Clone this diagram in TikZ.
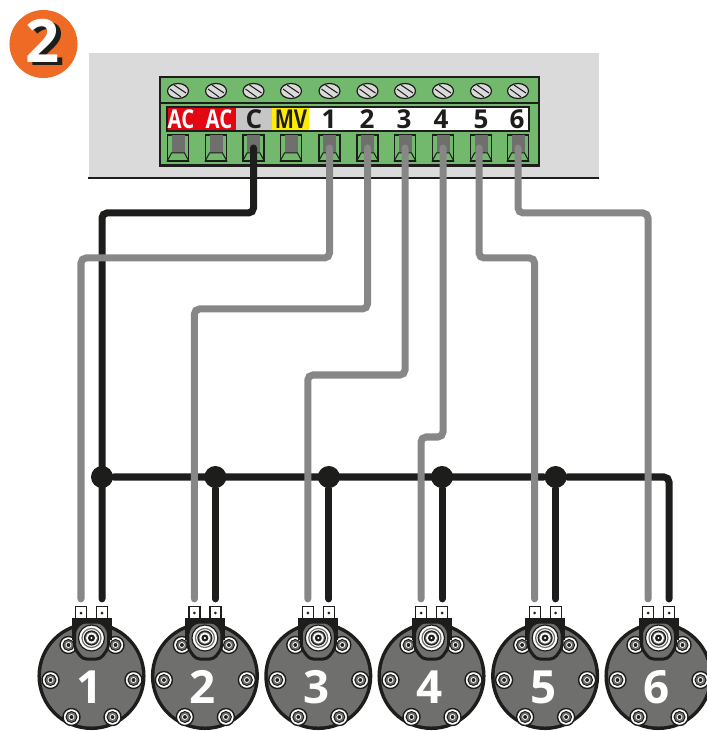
\documentclass[tikz,border=0pt]{standalone}
\usepackage{fontspec}
\setmainfont{Open Sans}
\usetikzlibrary{shapes, positioning, calc}

\definecolor{panelgrey}{HTML}{DADADA}
\definecolor{blockgreen}{HTML}{72B96E}
\definecolor{wiregrey}{HTML}{878787}
\definecolor{wireblack}{HTML}{1D1D1B}
\definecolor{potgrey}{HTML}{6F6F6E}
\definecolor{badgeorange}{HTML}{EE6A25}
\definecolor{acred}{HTML}{E30613}
\definecolor{mvyellow}{HTML}{FFED00}
\definecolor{stripgrey}{HTML}{C6C6C6}

\begin{document}
\begin{tikzpicture}[
        x=0.01cm, y=-0.01cm,
        stripbox/.style={minimum height=0.24cm, inner sep=0pt},
        stripfont/.style={font=\fontsize{7.4}{8}\selectfont\bfseries, inner sep=0pt},
        screwhead/.style={draw=wireblack, ellipse, fill=panelgrey, line width=0.012cm, minimum width=0.21cm, minimum height=0.15cm, inner sep=0pt},
        terminal/.style={draw=wireblack, line width=0.012cm, minimum width=0.21cm, minimum height=0.26cm, inner sep=0pt},
        wirepath/.style={line width=0.07cm, line cap=round, rounded corners=0.05cm, shorten >=0.07cm},
        dotnode/.style={circle, fill=wireblack, minimum size=0.22cm, inner sep=0pt},
        bolthead/.style={circle, draw=wireblack, fill=white, line width=0.014cm, minimum size=0.17cm, inner sep=0pt},
        tabnode/.style={draw=wireblack, fill=white, line width=0.012cm, minimum width=0.11cm, minimum height=0.13cm, inner sep=0pt}
    ]
    \clip (0,0) rectangle (707,731);

    % Badge
    \node[circle, fill=badgeorange, minimum size=0.68cm, inner sep=0pt] (badge) at (43.5,44) {};
    \node[text=wireblack, font=\fontsize{17}{18}\selectfont\bfseries, inner sep=0pt] (badgeshadow) at (47.5,44) {2};
    \node[text=white, font=\fontsize{17}{18}\selectfont\bfseries, inner sep=0pt] (badgetext) at (43,40.5) {2};

    % Control panel
    \fill[panelgrey] (89,53) rectangle (599,178);
    \draw[wireblack, line width=0.02cm] (88,178) -- (599,178);

    % Terminal block
    \node[draw=wireblack, fill=blockgreen, line width=0.025cm, minimum width=3.79cm, minimum height=0.885cm, inner sep=0pt] (block) at (349.5,121.3) {};
    \draw[wireblack, line width=0.012cm] (block.west |- 0,103) -- (block.east |- 0,103);

    % Label strip
    \node[stripbox, fill=acred, minimum width=0.69cm] (stripac) at (201.5,119) {};
    \node[stripbox, fill=stripgrey, minimum width=0.36cm] (stripc) at (254,119) {};
    \node[stripbox, fill=mvyellow, minimum width=0.37cm] (stripmv) at (290.5,119) {};
    \node[stripbox, fill=white, minimum width=2.2cm] (stripnum) at (419,119) {};
    \draw[wireblack, line width=0.012cm] (167,107) rectangle (529,131);

    % Strip labels
    \node[stripfont, text=white, xscale=0.78, transform shape] (labac1) at (181,119) {AC};
    \node[stripfont, text=white, xscale=0.78, transform shape] (labac2) at (219,119) {AC};
    \node[stripfont, text=wireblack] (labc) at (254,119) {C};
    \node[stripfont, text=wireblack, xscale=0.78, transform shape] (labmv) at (291,119) {MV};
    \foreach \n/\px in {1/329, 2/367, 3/404, 4/441, 5/481, 6/517}
        \node[stripfont, text=wireblack] (labnum\n) at (\px,119) {\n};

    % Screws and terminals
    \foreach \n/\px in {1/178, 2/216, 3/253.5, 4/291, 5/329.5, 6/367.5, 7/405, 8/443, 9/481, 10/518} {
        \node[screwhead] (screw\n) at (\px,91) {};
        \draw[wireblack, line width=0.01cm] ($(screw\n)+(-8,-2)$) -- ($(screw\n)+(3,6)$);
        \draw[wireblack, line width=0.01cm] ($(screw\n)+(-4,-6)$) -- ($(screw\n)+(8,2)$);
        \node[terminal] (term\n) at (\px,148) {};
        \fill[potgrey] ($(term\n)+(-6.5,-13)$) rectangle ($(term\n)+(6.5,5)$);
        \draw[wireblack, line width=0.01cm] (term\n.south west) -- ($(term\n)+(-6.5,5)$) -- ($(term\n)+(6.5,5)$) -- (term\n.south east);
    }
    \coordinate (wire5top) at (479,148);

    % Potentiometers
    \foreach \n/\px in {1/91.5, 2/204.9, 3/318.3, 4/431.5, 5/545.1, 6/658.5} {
        \begin{scope}[shift={(\px,676)}]
            \node[circle, fill=wireblack, minimum size=1.08cm, inner sep=0pt] (pot\n) at (0,0) {};
            \node[circle, fill=potgrey, minimum size=1.01cm, inner sep=0pt] (potface\n) at (0,0) {};
            \foreach \bx/\by in {-23/-31, 24/-31, -41/4, 42/4, -20/41, 21/41} {
                \node[bolthead] at (\bx,\by) {};
                \draw[wireblack, fill=potgrey, line width=0.01cm] (\bx,\by) circle (5.5);
                \draw[white, fill=wireblack, line width=0.008cm] (\bx,\by) circle (2.5);
            }
            % tabs and base
            \node[tabnode] (tabL\n) at (-10.5,-63) {};
            \node[tabnode] (tabR\n) at (10.5,-63) {};
            \fill[wireblack] (tabL\n) circle (1.5) (tabR\n) circle (1.5);
            \fill[wireblack] (-20,-58) rectangle (20,-36);
            \draw[wireblack, fill=potgrey, line width=0.03cm, rounded corners=0.04cm] (-10,-54) -- (10,-54) -- (17,-46) -- (17,-28) -- (9,-17) -- (-9,-17) -- (-17,-28) -- (-17,-46) -- cycle;
            \draw[wireblack, fill=white, line width=0.012cm] (0,-38) circle (13);
            \draw[potgrey, fill=white, line width=0.012cm] (0,-38) circle (9.5);
            \draw[wireblack, fill=potgrey, line width=0.012cm] (0,-38) circle (7);
            \fill[white] (0,-38) circle (5.5);
            \fill[wireblack] (0,-38) circle (3.5);
            \fill[white] (0,-38) circle (1.2);
            \node[text=white, font=\fontsize{13}{14}\selectfont\bfseries, inner sep=0pt] (potnum\n) at (-2,11) {\n};
        \end{scope}
    }

    % Common bus
    \node[dotnode] (dot1) at (102,477) {};
    \node[dotnode] (dot2) at (215.4,477) {};
    \node[dotnode] (dot3) at (328.8,477) {};
    \node[dotnode] (dot4) at (442,477) {};
    \node[dotnode] (dot5) at (555.6,477) {};

    % Black wires
    \draw[wireblack, wirepath] (term3.center) -- ++(0,65) -| (tabR1.north);
    \draw[wireblack, wirepath] (dot1) -- (dot5) -| (tabR6.north);
    \foreach \n in {2,3,4,5}
        \draw[wireblack, wirepath] (dot\n) -- (tabR\n.north);

    % Grey wires
    \draw[wiregrey, wirepath] (term5.center) -- ++(0,110) -| (tabL1.north);
    \draw[wiregrey, wirepath] (term6.center) -- ++(0,161) -| (tabL2.north);
    \draw[wiregrey, wirepath] (term7.center) -- ++(0,227) -| (tabL3.north);
    \draw[wiregrey, wirepath] (term8.center) -- ++(0,289) -| (tabL4.north);
    \draw[wiregrey, wirepath] (wire5top) -- ++(0,110) -| (tabL5.north);
    \draw[wiregrey, wirepath] (term10.center) -- ++(0,65) -| (tabL6.north);

\end{tikzpicture}
\end{document}
